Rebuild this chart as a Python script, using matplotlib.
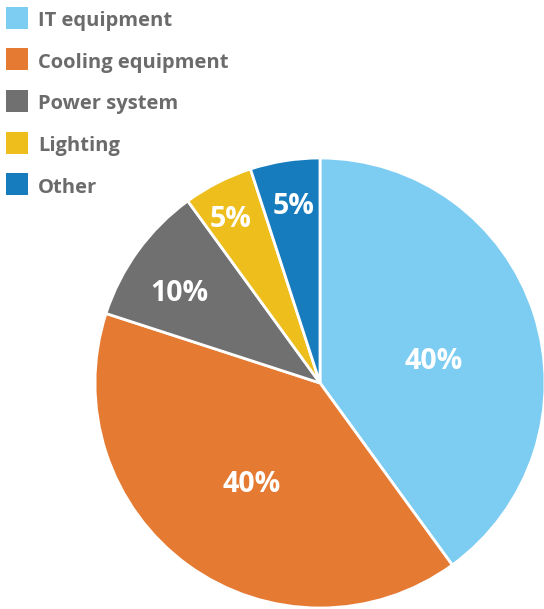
import matplotlib
matplotlib.use("Agg")
import matplotlib.pyplot as plt
from matplotlib.patches import Rectangle
import numpy as np

categories = ["IT equipment", "Cooling equipment", "Power system", "Lighting", "Other"]
values = [40, 40, 10, 5, 5]
labels = ["40%", "40%", "10%", "5%", "5%"]
colors = ["#7DCCF2", "#E57A33", "#707070", "#EDBE1C", "#167CBE"]
label_radius = [0.515, 0.53, 0.75, 0.84, 0.81]
label_angle_shift = [-5.5, 1, 2.6, 1.2, -0.8]

FONT = "Open Sans"
W, H = 544, 609
fig = plt.figure(figsize=(W / 100, H / 100), dpi=100)
fig.patch.set_facecolor("white")

cx, cy, r = 320, 383, 225
ax = fig.add_axes([(cx - r) / W, (H - cy - r) / H, 2 * r / W, 2 * r / H])
wedges, _ = ax.pie(values, colors=colors, startangle=90, counterclock=False,
                   radius=1, wedgeprops=dict(edgecolor="white", linewidth=2))
ax.set_xlim(-1, 1)
ax.set_ylim(-1, 1)
ax.set_aspect("equal")
ax.axis("off")

for w, lab, lr, sh in zip(wedges, labels, label_radius, label_angle_shift):
    ang = np.deg2rad((w.theta1 + w.theta2) / 2 + sh)
    ax.text(lr * np.cos(ang), lr * np.sin(ang), lab, ha="center", va="center_baseline",
            color="white", fontsize=20.5, fontweight="bold", family=FONT)

# legend
y0, dy = 17.5, 41.7
for i, (cat, col) in enumerate(zip(categories, colors)):
    yc = y0 + i * dy
    fig.patches.append(Rectangle((6 / W, (H - yc - 11) / H), 22 / W, 22 / H,
                                 transform=fig.transFigure, facecolor=col,
                                 edgecolor="none"))
    fig.text(38 / W, (H - yc - 8.5) / H, cat, ha="left", va="baseline", color="#6B6B6B",
             fontsize=14.5, fontweight="bold", family=FONT)

fig.savefig("out.png", dpi=100)
